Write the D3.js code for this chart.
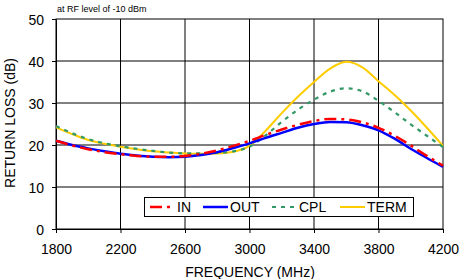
<!DOCTYPE html>
<html>
<head>
    <title>Return Loss</title>
    <script src="https://cdnjs.cloudflare.com/ajax/libs/d3/7.8.5/d3.min.js"></script>
    <style>
        body { margin: 0; background: white; }
        text { font-family: "Liberation Sans", Arial, sans-serif; fill: black; }
        .grid line { stroke: #000; stroke-width: 1; }
    </style>
</head>
<body>
    <svg id="chart"></svg>

    <script>
        // frequencies in MHz, 100 MHz steps
        const freq = [1800, 1900, 2000, 2100, 2200, 2300, 2400, 2500, 2600, 2700, 2800, 2900,
                      3000, 3100, 3200, 3300, 3400, 3500, 3600, 3700, 3800, 3900, 4000, 4100, 4200];

        const retIn = [21.0, 19.9, 19.0, 18.3, 17.8, 17.4, 17.2, 17.2, 17.4, 17.9, 18.7, 19.8,
                       21.0, 22.4, 23.7, 24.8, 25.7, 26.2, 26.1, 25.4, 24.1, 22.2, 19.9, 17.4, 15.1];
        const retOut = [21.0, 20.0, 19.2, 18.5, 17.9, 17.5, 17.2, 17.1, 17.2, 17.6, 18.3, 19.3,
                        20.4, 21.7, 22.9, 24.1, 25.0, 25.5, 25.4, 24.7, 23.5, 21.5, 19.1, 16.9, 14.8];
        const retCpl = [24.5, 22.8, 21.4, 20.4, 19.7, 19.1, 18.6, 18.2, 18.0, 18.0, 18.1, 18.5,
                        19.6, 22.3, 25.5, 28.4, 30.8, 32.7, 33.5, 32.8, 30.5, 27.8, 24.9, 22.2, 19.5];
        const retTerm = [24.2, 22.6, 21.2, 20.3, 19.6, 19.0, 18.5, 18.2, 18.0, 17.9, 18.0, 18.4,
                         19.8, 23.4, 27.6, 31.5, 35.0, 38.2, 39.8, 38.5, 35.2, 31.9, 28.2, 24.1, 19.8];

        const xTicks = [1800, 2200, 2600, 3000, 3400, 3800, 4200];
        const yTicks = [0, 10, 20, 30, 40, 50];

        const series = [
            {name: "IN",   values: retIn,   color: "#ff0000", width: 2.5, dash: "12,5,3,5"},
            {name: "OUT",  values: retOut,  color: "#0000ff", width: 2.5, dash: null},
            {name: "CPL",  values: retCpl,  color: "#339966", width: 2.2, dash: "4,5"},
            {name: "TERM", values: retTerm, color: "#ffcc00", width: 2,   dash: null}
        ];

        const width = 460, height = 279;
        const plotL = 56, plotR = 443, plotT = 19, plotB = 229;

        const svg = d3.select("#chart")
            .attr("width", width)
            .attr("height", height);

        const x = d3.scaleLinear().domain([1800, 4200]).range([plotL, plotR]);
        const y = d3.scaleLinear().domain([0, 50]).range([plotB, plotT]);

        // grid
        const grid = svg.append("g").attr("class", "grid");
        grid.selectAll(".vg")
            .data(xTicks.slice(1, -1))
            .join("line")
            .attr("x1", d => x(d)).attr("x2", d => x(d))
            .attr("y1", plotT).attr("y2", plotB);
        grid.selectAll(".hg")
            .data(yTicks.slice(1, -1))
            .join("line")
            .attr("x1", plotL).attr("x2", plotR)
            .attr("y1", d => y(d)).attr("y2", d => y(d));

        svg.append("rect")
            .attr("x", plotL).attr("y", plotT)
            .attr("width", plotR - plotL).attr("height", plotB - plotT)
            .attr("fill", "none").attr("stroke", "#000");

        // axes
        const xAxis = svg.append("g")
            .attr("transform", `translate(0,${plotB})`)
            .call(d3.axisBottom(x).tickValues(xTicks).tickFormat(d3.format("d"))
                .tickSize(4).tickPadding(11).tickSizeOuter(0));
        const yAxis = svg.append("g")
            .attr("transform", `translate(${plotL},0)`)
            .call(d3.axisLeft(y).tickValues(yTicks).tickFormat(d3.format("d"))
                .tickSize(4).tickPadding(8).tickSizeOuter(0));
        [xAxis, yAxis].forEach(a => {
            a.select(".domain").attr("stroke", "#000");
            a.selectAll("line").attr("stroke", "#000");
            a.selectAll("text")
                .style("font-family", "'Liberation Sans', Arial, sans-serif")
                .style("font-size", "14px")
                .attr("fill", "#000");
        });
        yAxis.selectAll("text").attr("dy", "0.36em");

        // lines
        const line = d3.line()
            .x((d, i) => x(freq[i]))
            .y(d => y(d))
            .curve(d3.curveMonotoneX);

        svg.append("g")
            .selectAll("path")
            .data(series.slice().reverse())
            .join("path")
            .attr("d", d => line(d.values))
            .attr("fill", "none")
            .attr("stroke", d => d.color)
            .attr("stroke-width", d => d.width)
            .attr("stroke-dasharray", d => d.dash);

        // titles
        svg.append("text")
            .attr("x", 57).attr("y", 11.5)
            .style("font-size", "9px")
            .text("at RF level of -10 dBm");

        svg.append("text")
            .attr("x", 250).attr("y", 276.5)
            .attr("text-anchor", "middle")
            .style("font-size", "14px")
            .text("FREQUENCY (MHz)");

        svg.append("text")
            .attr("transform", "translate(15,123) rotate(-90)")
            .attr("text-anchor", "middle")
            .style("font-size", "14px")
            .text("RETURN LOSS (dB)");

        // legend
        const legend = svg.append("g");
        legend.append("rect")
            .attr("x", 144.5).attr("y", 197.5)
            .attr("width", 269).attr("height", 19)
            .attr("fill", "white").attr("stroke", "#000");

        const legendX = [150, 203, 272, 340];
        const item = legend.selectAll(".item")
            .data(series)
            .join("g")
            .attr("transform", (d, i) => `translate(${legendX[i]},207)`);
        item.append("line")
            .attr("x1", 0).attr("x2", 25)
            .attr("stroke", d => d.color)
            .attr("stroke-width", d => d.width)
            .attr("stroke-dasharray", d => d.dash);
        item.append("text")
            .attr("x", 27).attr("y", 5)
            .style("font-size", "14px")
            .text(d => d.name);
    </script>
</body>
</html>
